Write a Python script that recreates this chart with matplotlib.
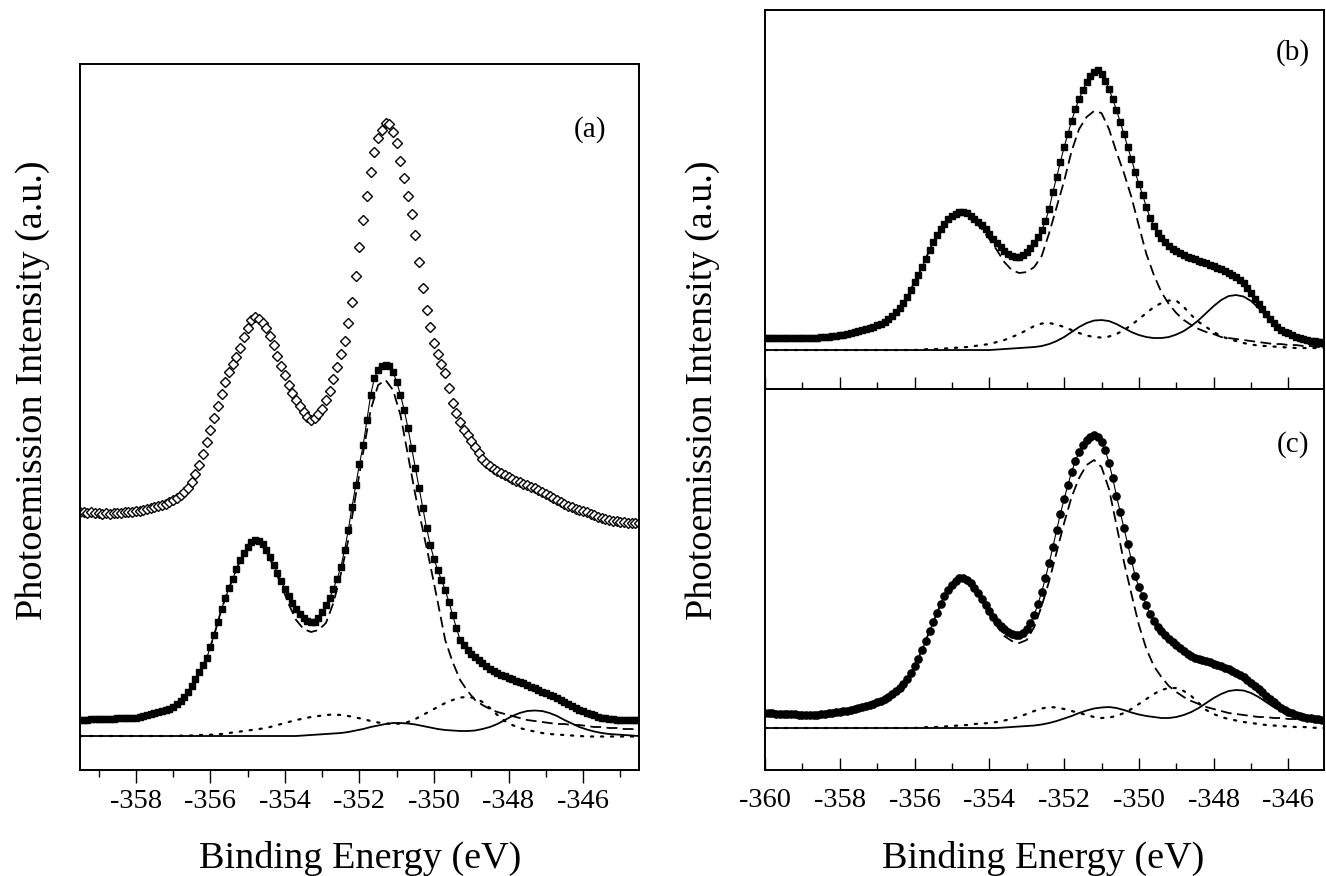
#!/usr/bin/env python3
"""
Core-level photoemission spectra with peak-fit components, panels (a)-(c).
"""

import numpy as np
import matplotlib
matplotlib.use("Agg")
import matplotlib.pyplot as plt
from matplotlib.ticker import MultipleLocator

# ---- energy grids (eV) ----
energy_a = np.linspace(-359.5, -344.5, 151)      # data points, panel (a)
energy_a_fit = np.linspace(-359.5, -344.5, 76)   # fit components, panel (a)
energy_bc = np.linspace(-360.0, -345.0, 151)     # data points, panels (b), (c)
energy_bc_fit = np.linspace(-360.0, -345.0, 76)  # fit components, panels (b), (c)

# ---- panel (a) ----
a_open = [
    258, 258, 257, 258, 257, 257, 256, 257, 256, 257,
    257, 257, 258, 258, 258, 259, 259, 260, 261, 262,
    263, 264, 265, 266, 268, 270, 272, 275, 278, 282,
    288, 296, 305, 316, 328, 340, 352, 364, 376, 388,
    398, 406, 413, 422, 433, 442, 450, 453, 451, 447,
    442, 434, 425, 414, 404, 395, 385, 377, 370, 364,
    358, 353, 350, 352, 356, 361, 370, 379, 391, 403,
    416, 429, 447, 468, 494, 523, 550, 574, 598, 618,
    632, 640, 647, 646, 638, 627, 609, 592, 574, 556,
    535, 508, 482, 460, 443, 427, 416, 406, 397, 382,
    367, 357, 348, 340, 335, 329, 323, 317, 311, 307,
    304, 301, 299, 297, 295, 293, 291, 289, 288, 286,
    285, 283, 282, 280, 278, 276, 274, 272, 270, 268,
    266, 264, 263, 261, 260, 259, 258, 256, 255, 253,
    252, 251, 250, 249, 249, 248, 248, 247, 247, 247,
    247,
]
a_filled = [
    50, 50, 50, 51, 51, 51, 51, 51, 51, 51,
    52, 52, 52, 52, 52, 52, 53, 54, 55, 56,
    57, 58, 59, 60, 61, 63, 66, 69, 73, 78,
    84, 91, 98, 105, 112, 123, 135, 148, 161, 172,
    182, 191, 201, 210, 217, 223, 228, 230, 229, 226,
    220, 213, 205, 197, 189, 181, 174, 167, 161, 156,
    152, 149, 148, 148, 152, 158, 165, 172, 181, 191,
    203, 220, 240, 263, 285, 306, 325, 350, 375, 392,
    400, 404, 405, 404, 398, 388, 375, 360, 342, 322,
    302, 282, 262, 242, 225, 211, 200, 190, 180, 168,
    155, 142, 130, 125, 120, 116, 113, 110, 107, 104,
    101, 99, 97, 95, 94, 92, 91, 89, 88, 87,
    85, 83, 82, 80, 78, 77, 75, 74, 72, 70,
    68, 66, 64, 62, 60, 59, 57, 56, 55, 53,
    52, 52, 51, 51, 50, 50, 50, 50, 50, 50,
    50,
]
a_dashed = [
    50, 50, 51, 51, 51, 52, 52, 52, 53, 55,
    57, 59, 61, 66, 73, 84, 98, 112, 135, 161,
    182, 201, 217, 228, 229, 219, 203, 185, 166, 150,
    141, 138, 140, 147, 167, 196, 230, 275, 318, 360,
    385, 390, 380, 355, 315, 275, 240, 205, 168, 130,
    108, 90, 79, 70, 65, 61, 58, 56, 54, 52,
    50, 49, 48, 47, 46, 46, 45, 45, 44, 43,
    43, 42, 42, 41, 41, 40,
]
a_dotted = [
    34, 34, 34, 34, 34, 34, 34, 34, 34, 34,
    34, 34, 34, 34, 34.5, 34.5, 35, 35, 35.5, 36,
    37, 38, 39, 40, 41, 42, 44, 46, 48, 50,
    51.5, 53, 54, 55, 55.5, 55, 54, 52.5, 51, 49,
    47.5, 46.5, 46, 46.5, 48, 51, 55, 59, 63, 67,
    70, 72.5, 73, 72, 68, 62, 55, 49, 45, 42,
    40, 38.5, 37, 36, 35.5, 35, 34.5, 34, 33.5, 33.5,
    33.5, 33.5, 33.5, 33.5, 33.5, 33.5,
]
a_solid = [
    34, 34, 34, 34, 34, 34, 34, 34, 34, 34,
    34, 34, 34, 34, 34, 34, 34, 34, 34, 34,
    34, 34, 34, 34, 34, 34, 34, 34, 34, 34,
    34.5, 35, 35.5, 36, 36.5, 37, 38, 39.5, 41, 43,
    44.5, 46, 47, 47, 46.5, 45.5, 44, 42.5, 41, 40,
    39.5, 39, 39, 39.5, 41, 43, 46, 50, 54, 57,
    59, 59.5, 59, 57, 54, 50, 46.5, 43, 40.5, 38.5,
    37, 36, 35.5, 35, 34.5, 34,
]

# ---- panel (b) ----
b_data = [
    51, 51, 51, 51, 51, 51, 51, 51, 51, 51,
    51, 51, 51, 51, 51, 52, 52, 52, 53, 53,
    54, 54, 55, 56, 57, 58, 59, 60, 61, 62,
    64, 65, 67, 70, 73, 77, 81, 86, 92, 99,
    107, 114, 122, 130, 139, 147, 154, 160, 165, 170,
    173, 175, 177, 177, 176, 173, 170, 167, 164, 160,
    155, 150, 146, 142, 138, 135, 133, 132, 132, 134,
    137, 141, 146, 152, 159, 168, 180, 197, 212, 227,
    242, 255, 268, 280, 290, 299, 307, 313, 317, 319,
    315, 308, 300, 290, 279, 267, 255, 242, 230, 217,
    205, 194, 182, 171, 163, 156, 151, 147, 143, 140,
    138, 136, 134, 132, 131, 130, 128, 127, 126, 124,
    123, 121, 120, 118, 116, 114, 112, 109, 106, 101,
    96, 90, 85, 80, 75, 70, 66, 62, 59, 57,
    56, 54, 52, 51, 50, 49, 48, 48, 47, 47,
    47,
]
b_dashed = [
    51, 51, 51, 51, 51, 51, 51, 51, 52, 53,
    54, 55, 57, 59, 61, 64, 67, 73, 81, 92,
    107, 122, 139, 154, 165, 173, 177, 175, 168, 160,
    150, 139, 127, 119, 116, 117, 122, 133, 156, 182,
    208, 238, 260, 272, 278, 276, 260, 237, 216, 192,
    163, 135, 114, 97, 85, 76, 69, 64, 60, 57,
    55, 52, 51, 50, 49, 48, 47, 46, 45, 45,
    44, 44, 43, 43, 42, 42,
]
b_dotted = [
    39, 39, 39, 39, 39, 39, 39, 39, 39, 39,
    39, 39, 39, 39, 39, 39, 39, 39, 39, 39,
    39, 39.5, 40, 40, 40.5, 41, 41.5, 42, 43, 44,
    45, 47, 49, 52, 55, 59, 63, 65.5, 66, 64.5,
    62, 59, 56, 53.5, 52, 51.5, 52.5, 55, 59, 64,
    70, 76, 82, 86, 88.5, 88.5, 82, 74, 67, 62,
    57, 53, 50, 48, 46, 44.5, 43.5, 43, 42.5, 42,
    41.5, 41, 41, 41, 41, 41,
]
b_solid = [
    39, 39, 39, 39, 39, 39, 39, 39, 39, 39,
    39, 39, 39, 39, 39, 39, 39, 39, 39, 39,
    39, 39, 39, 39, 39, 39, 39, 39, 39, 39,
    39, 39.5, 40, 40.5, 41, 41.5, 42, 43, 45, 48,
    52, 57, 62, 66, 68.5, 69, 68, 65, 61, 57,
    54, 52, 51, 51, 52, 54.5, 58, 63, 69, 76,
    83, 89, 93, 94, 92.5, 88, 81, 73, 65, 59,
    54, 50, 47, 45, 43, 42,
]

# ---- panel (c) ----
c_data = [
    57, 57, 57, 56, 56, 56, 56, 56, 56, 55,
    55, 55, 55, 55, 55, 56, 56, 57, 57, 58,
    58, 59, 59, 60, 61, 62, 63, 64, 65, 66,
    68, 69, 71, 73, 76, 79, 82, 86, 91, 97,
    104, 111, 120, 129, 139, 148, 157, 166, 174, 180,
    185, 189, 192, 192, 190, 187, 182, 177, 171, 165,
    159, 153, 148, 144, 141, 138, 136, 135, 135, 137,
    141, 147, 155, 166, 178, 192, 207, 223, 240, 256,
    271, 285, 298, 309, 318, 325, 330, 333, 335, 333,
    328, 320, 307, 292, 274, 258, 242, 226, 210, 194,
    183, 174, 165, 156, 149, 143, 139, 135, 131, 128,
    125, 122, 119, 116, 114, 112, 111, 110, 109, 108,
    106, 105, 104, 102, 101, 99, 97, 95, 93, 90,
    87, 84, 81, 78, 74, 71, 68, 65, 62, 60,
    58, 57, 55, 54, 53, 52, 52, 51, 51, 50,
    50,
]
c_dashed = [
    57, 57, 56, 56, 56, 55, 55, 55, 56, 57,
    58, 59, 61, 63, 65, 68, 71, 76, 82, 91,
    104, 120, 139, 157, 174, 185, 192, 189, 181, 169,
    156, 144, 134, 129, 127, 130, 143, 164, 189, 218,
    247, 273, 292, 305, 310, 303, 281, 245, 208, 176,
    145, 121, 104, 93, 84, 78, 73, 69, 66, 63,
    61, 59, 57, 56, 55, 54, 53, 53, 52, 52,
    51, 51, 51, 50, 50, 50,
]
c_dotted = [
    42, 42, 42, 42, 42, 42, 42, 42, 42, 42,
    42, 42, 42, 42, 42, 42, 42, 42, 42, 42,
    42, 42.5, 43, 43, 43.5, 44, 44.5, 45, 46, 46.5,
    47, 48, 49.5, 51, 53.5, 56, 59, 61.5, 63, 62.5,
    61, 59, 57, 55, 53, 52, 52.5, 54, 57, 61,
    66, 71, 76, 80, 82, 82, 79, 74, 67, 60,
    56, 53, 51, 49.5, 48, 47, 46, 45, 44.5, 44,
    43.5, 43, 43, 42.5, 42, 42,
]
c_solid = [
    42, 42, 42, 42, 42, 42, 42, 42, 42, 42,
    42, 42, 42, 42, 42, 42, 42, 42, 42, 42,
    42, 42, 42, 42, 42, 42, 42, 42, 42, 42,
    42, 42, 42.5, 43, 43.5, 44, 44.5, 45.5, 47, 49,
    51.5, 54, 57, 59.5, 61.5, 62.5, 63, 62, 60, 57.5,
    55.5, 54, 53, 52, 52, 53, 55, 58, 62, 67,
    72, 76, 79, 80, 79.5, 77, 73, 68, 63, 60,
    56.5, 53.5, 51, 49, 47.5, 47,
]

panel_labels = ["(a)", "(b)", "(c)"]
x_label = "Binding Energy (eV)"
y_label = "Photoemission Intensity (a.u.)"

DASHED = (0, (6, 3))
DOTTED = (0, (1, 3.5))


def style_axis(ax, direction, show_labels=True):
    """Frame, bottom ticks only, no y ticks"""
    for spine in ax.spines.values():
        spine.set_linewidth(1.4)
    ax.xaxis.set_major_locator(MultipleLocator(2))
    ax.xaxis.set_minor_locator(MultipleLocator(1))
    ax.tick_params(axis="x", which="both", direction=direction, top=False,
                   width=1.0, labelsize=20.5, labelbottom=show_labels)
    ax.tick_params(axis="x", which="major", length=9,
                   pad=5 if direction == "out" else 13)
    ax.tick_params(axis="x", which="minor", length=5)
    ax.set_yticks([])


def draw_components(ax, x_fit, dashed, dotted, solid):
    ax.plot(x_fit, dashed, color="black", lw=1.3, ls=DASHED, zorder=4)
    ax.plot(x_fit, dotted, color="black", lw=1.6, ls=DOTTED,
            dash_capstyle="round", zorder=4)
    ax.plot(x_fit, solid, color="black", lw=1.3, zorder=4)


def main():
    plt.rcParams["font.family"] = ["Liberation Serif", "DejaVu Serif"]
    plt.rcParams["axes.unicode_minus"] = False

    fig = plt.figure(figsize=(13.26, 8.76), dpi=100)

    ax_a = fig.add_axes([0.0603, 0.1210, 0.4216, 0.8059])
    ax_b = fig.add_axes([0.5769, 0.5559, 0.4216, 0.4326])
    ax_c = fig.add_axes([0.5769, 0.1210, 0.4216, 0.4349])

    # (a): raw spectrum (open diamonds) and fitted spectrum (filled squares)
    ax_a.plot(energy_a, a_open, ls="none", marker="D", ms=4.8, mfc="white",
              mec="black", mew=1.0, zorder=2)
    ax_a.plot(energy_a, a_filled, ls="none", marker="s", ms=5, color="black",
              zorder=2)
    ax_a.plot(energy_a, a_filled, color="black", lw=0.8, zorder=3)
    draw_components(ax_a, energy_a_fit, a_dashed, a_dotted, a_solid)
    ax_a.set_xlim(-359.5, -344.5)
    ax_a.set_ylim(0, 706)
    style_axis(ax_a, "out")

    # (b)
    ax_b.plot(energy_bc, b_data, ls="none", marker="s", ms=5, color="black",
              zorder=2)
    ax_b.plot(energy_bc, b_data, color="black", lw=0.8, zorder=3)
    draw_components(ax_b, energy_bc_fit, b_dashed, b_dotted, b_solid)
    ax_b.set_xlim(-360, -345.05)
    ax_b.set_ylim(0, 379)
    style_axis(ax_b, "in", show_labels=False)

    # (c)
    ax_c.plot(energy_bc, c_data, ls="none", marker="o", ms=5.2, color="black",
              zorder=2)
    ax_c.plot(energy_bc, c_data, color="black", lw=0.8, zorder=3)
    draw_components(ax_c, energy_bc_fit, c_dashed, c_dotted, c_solid)
    ax_c.set_xlim(-360, -345.05)
    ax_c.set_ylim(0, 381)
    style_axis(ax_c, "in")

    label_pos = [(590, 130), (1293, 53), (1293, 445)]
    for text, (px, py) in zip(panel_labels, label_pos):
        fig.text(px / 1326, 1 - py / 876, text, fontsize=21,
                 ha="center", va="center")

    fig.text(33 / 1326, 1 - 390 / 876, y_label, rotation=90, fontsize=27.5,
             ha="center", va="center")
    fig.text(703 / 1326, 1 - 390 / 876, y_label, rotation=90, fontsize=27.5,
             ha="center", va="center")
    fig.text(360 / 1326, 1 - 858 / 876, x_label, fontsize=27.5,
             ha="center", va="center")
    fig.text(1043 / 1326, 1 - 858 / 876, x_label, fontsize=27.5,
             ha="center", va="center")

    fig.savefig("out.png", dpi=100)


if __name__ == "__main__":
    main()
